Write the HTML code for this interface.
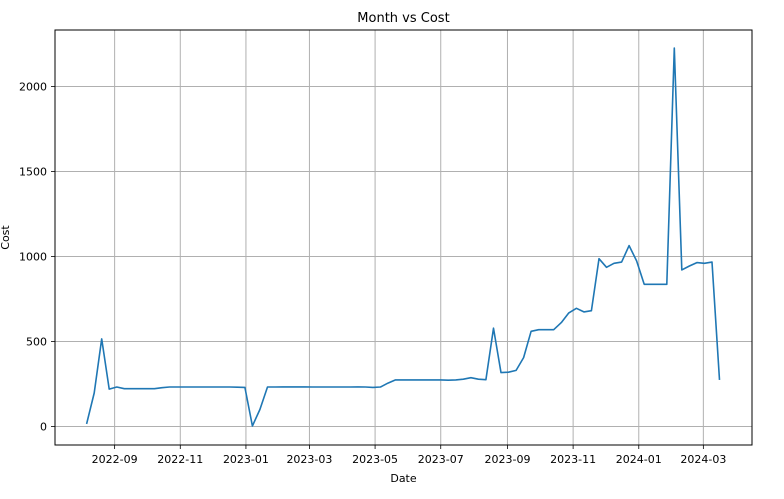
<!DOCTYPE html>
<html><head><meta charset="utf-8"><style>
body{margin:0;background:#fff;width:784px;height:494px;overflow:hidden}
svg text{font-family:"DejaVu Sans","Liberation Sans",sans-serif;fill:#000}
</style></head><body>
<svg id="chart" width="784" height="494" xmlns="http://www.w3.org/2000/svg"></svg>
<script>
const dateStrings = ["2022-08-06","2022-08-13","2022-08-20","2022-08-27","2022-09-03","2022-09-10","2022-09-17","2022-09-24","2022-10-01","2022-10-08","2022-10-15","2022-10-22","2022-10-29","2022-11-05","2022-11-12","2022-11-19","2022-11-26","2022-12-03","2022-12-10","2022-12-17","2022-12-24","2022-12-31",
"2023-01-07","2023-01-14","2023-01-21","2023-01-28","2023-02-04","2023-02-11","2023-02-18","2023-02-25","2023-03-04","2023-03-11","2023-03-18","2023-03-25","2023-04-01","2023-04-08","2023-04-15","2023-04-22","2023-04-29","2023-05-06","2023-05-13","2023-05-20","2023-05-27","2023-06-03","2023-06-10","2023-06-17","2023-06-24","2023-07-01","2023-07-08","2023-07-15","2023-07-22","2023-07-29","2023-08-05","2023-08-12","2023-08-19","2023-08-26","2023-09-02","2023-09-09","2023-09-16","2023-09-23","2023-09-30","2023-10-07","2023-10-14","2023-10-21","2023-10-28","2023-11-04","2023-11-11","2023-11-18","2023-11-25","2023-12-02","2023-12-09","2023-12-16","2023-12-23","2023-12-30",
"2024-01-06","2024-01-13","2024-01-20","2024-01-27","2024-02-03","2024-02-10","2024-02-17","2024-02-24","2024-03-02","2024-03-09","2024-03-16"];
const costValues = [15,197,515,220,232,222,222,222,222,222,228,232,232,232,232,232,232,232,232,232,231,230,
3,100,232,232,233,233,233,233,232,232,232,232,232,232,233,232,230,232,255,274,274,274,274,274,274,274,272,274,278,287,278,275,578,317,319,330,405,560,569,569,569,611,668,695,674,681,987,936,960,967,1064,974,
836,836,836,836,2226,921,944,964,960,967,274];
const xTickLabels = ["2022-09","2022-11","2023-01","2023-03","2023-05","2023-07","2023-09","2023-11","2024-01","2024-03"];
const yTickValues = [0,500,1000,1500,2000];

const svg = document.getElementById('chart');
const NS = 'http://www.w3.org/2000/svg';
const L=55,R=752,T=30,B=445;
const DAY=86400000, base=Date.UTC(2022,8,1);
const dmin=-55.4, dmax=592.2, ymin=-109, ymax=2332;
function toDay(s){const p=s.split('-').map(Number);return (Date.UTC(p[0],p[1]-1,p[2]||1)-base)/DAY;}
function xs(d){return L+(d-dmin)/(dmax-dmin)*(R-L);}
function ys(v){return B-(v-ymin)/(ymax-ymin)*(B-T);}
function mk(tag,attrs,parent){const e=document.createElementNS(NS,tag);for(const k in attrs)e.setAttribute(k,attrs[k]);(parent||svg).appendChild(e);return e;}

xTickLabels.forEach(lbl=>{
  const x=xs(toDay(lbl));
  const g=mk('line',{x1:x,x2:x,y1:T,y2:B,stroke:'#b0b0b0','stroke-width':1});
  
  
  const tk=mk('line',{x1:x,x2:x,y1:B,y2:B+4,stroke:'#000','stroke-width':0.8});
  
  
  const t=mk('text',{x:x,y:B+18,'text-anchor':'middle','font-size':11});
  t.textContent=lbl;
  
  
});
yTickValues.forEach(v=>{
  const y=ys(v);
  const g=mk('line',{x1:L,x2:R,y1:y,y2:y,stroke:'#b0b0b0','stroke-width':1});
  
  
  const tk=mk('line',{x1:L-4,x2:L,y1:y,y2:y,stroke:'#000','stroke-width':0.8});
  
  
  const t=mk('text',{x:L-8,y:y+4,'text-anchor':'end','font-size':11});
  t.textContent=v;
  
  
});
const pts=dateStrings.map((d,i)=>xs(toDay(d)).toFixed(1)+','+ys(costValues[i]).toFixed(1)).join(' ');
const line=mk('polyline',{points:pts,fill:'none',stroke:'#1f77b4','stroke-width':1.6,'stroke-linejoin':'round'});


const frame=mk('rect',{x:L,y:T,width:R-L,height:B-T,fill:'none',stroke:'#000','stroke-width':1});


const title=mk('text',{x:(L+R)/2,y:T-8,'text-anchor':'middle','font-size':13});
title.textContent='Month vs Cost';


const xl=mk('text',{x:(L+R)/2,y:482,'text-anchor':'middle','font-size':11});
xl.textContent='Date';


const yl=mk('text',{x:0,y:0,'text-anchor':'middle','font-size':11,transform:'translate(9,'+((T+B)/2)+') rotate(-90)'});
yl.textContent='Cost';


</script>
</body></html>
